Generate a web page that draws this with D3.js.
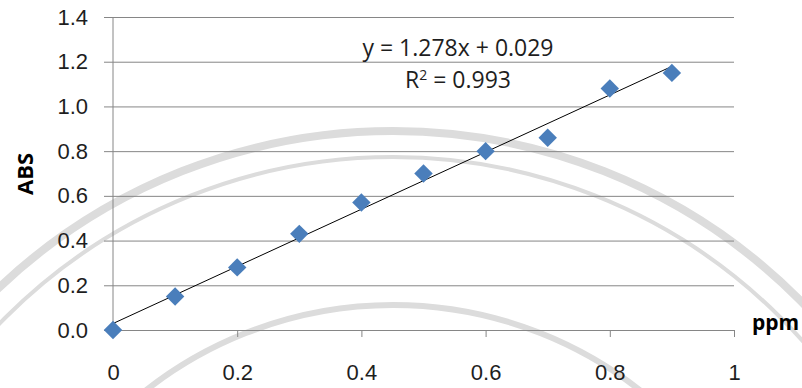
<!DOCTYPE html>
<html>
<head>
<meta charset="utf-8">
<script src="https://cdn.jsdelivr.net/npm/d3@7"></script>
<style>
  body { margin: 0; background: #fff; }
  svg { display: block; font-family: "Open Sans", sans-serif; }
</style>
</head>
<body>
<script>
const w = 802;
const h = 388;

// concentration (ppm) and absorbance
const conc = [0, 0.1, 0.2, 0.3, 0.4, 0.5, 0.6, 0.7, 0.8, 0.9];
const abs = [0, 0.15, 0.28, 0.43, 0.57, 0.70, 0.80, 0.86, 1.08, 1.15];
const xTicks = [0, 0.2, 0.4, 0.6, 0.8, 1];
const yTicks = [0, 0.2, 0.4, 0.6, 0.8, 1.0, 1.2, 1.4];
const slope = 1.278;
const intercept = 0.029;
const r2 = 0.993;

const data = conc.map((c, i) => ({x: c, y: abs[i]}));

const svg = d3.select("body")
  .append("svg")
  .attr("width", w)
  .attr("height", h);

// faint seal watermark behind the plot
const wm = svg.append("g")
  .attr("fill", "none")
  .attr("stroke", "#dcdcdc");
const rings = [{r: 574, sw: 8}, {r: 548, sw: 4}, {r: 400, sw: 6}];
wm.selectAll("circle")
  .data(rings)
  .enter()
  .append("circle")
  .attr("cx", 393)
  .attr("cy", 705)
  .attr("r", d => d.r)
  .attr("stroke-width", d => d.sw);

const xScale = d3.scaleLinear()
  .domain([0, 1])
  .range([113, 734]);

const yScale = d3.scaleLinear()
  .domain([0, 1.4])
  .range([330, 17]);

const gridColor = "#868686";
const textColor = "#1e1e1e";

// horizontal gridlines with small ticks past the y axis
const yAxis = d3.axisLeft(yScale)
  .tickValues(yTicks)
  .tickSize(-(734 - 104))
  .tickFormat(d3.format(".1f"));

const gy = svg.append("g")
  .attr("transform", "translate(104,0)")
  .call(yAxis);
gy.select(".domain").remove();
gy.selectAll(".tick line").attr("stroke", gridColor);
gy.selectAll(".tick text")
  .attr("x", -16)
  .attr("fill", textColor)
  .style("font-size", "22px");

// y axis line
svg.append("line")
  .attr("x1", xScale(0)).attr("x2", xScale(0))
  .attr("y1", yScale(1.4)).attr("y2", yScale(0))
  .attr("stroke", gridColor);

const xAxis = d3.axisBottom(xScale)
  .tickValues(xTicks)
  .tickSize(7)
  .tickSizeOuter(0)
  .tickFormat(d => d3.format("")(d));

const gx = svg.append("g")
  .attr("transform", "translate(0," + yScale(0) + ")")
  .call(xAxis);
gx.select(".domain").attr("stroke", gridColor);
gx.selectAll(".tick line").attr("stroke", gridColor);
gx.selectAll(".tick text")
  .attr("y", 34)
  .attr("fill", textColor)
  .style("font-size", "22px");

// linear trendline over the data range
const xExt = d3.extent(conc);
svg.append("line")
  .attr("x1", xScale(xExt[0]))
  .attr("y1", yScale(slope * xExt[0] + intercept))
  .attr("x2", xScale(xExt[1]))
  .attr("y2", yScale(slope * xExt[1] + intercept))
  .attr("stroke", "#000")
  .attr("stroke-width", 1);

// diamond markers
const diamond = d3.symbol().type(d3.symbolSquare).size(170);
svg.selectAll("path.pt")
  .data(data)
  .enter()
  .append("path")
  .attr("class", "pt")
  .attr("d", diamond)
  .attr("transform", d => "translate(" + xScale(d.x) + "," + yScale(d.y) + ") rotate(45)")
  .attr("fill", "#4a7ebb");

// equation + R squared
svg.append("text")
  .attr("x", 458)
  .attr("y", 56)
  .attr("text-anchor", "middle")
  .attr("fill", textColor)
  .style("font-size", "23px")
  .text("y = " + slope + "x + " + intercept);

const rt = svg.append("text")
  .attr("x", 458)
  .attr("y", 88)
  .attr("text-anchor", "middle")
  .attr("fill", textColor)
  .style("font-size", "23px");
rt.append("tspan").text("R");
rt.append("tspan").attr("dy", -8).style("font-size", "14px").text("2");
rt.append("tspan").attr("dy", 8).text(" = " + r2);

// axis titles
svg.append("text")
  .attr("transform", "translate(33,174) rotate(-90)")
  .attr("text-anchor", "middle")
  .attr("fill", "#000")
  .style("font-size", "22px")
  .style("font-weight", "bold")
  .text("ABS");

svg.append("text")
  .attr("x", 752)
  .attr("y", 330)
  .attr("fill", "#000")
  .style("font-size", "21px")
  .style("font-weight", "bold")
  .text("ppm");
</script>
</body>
</html>
